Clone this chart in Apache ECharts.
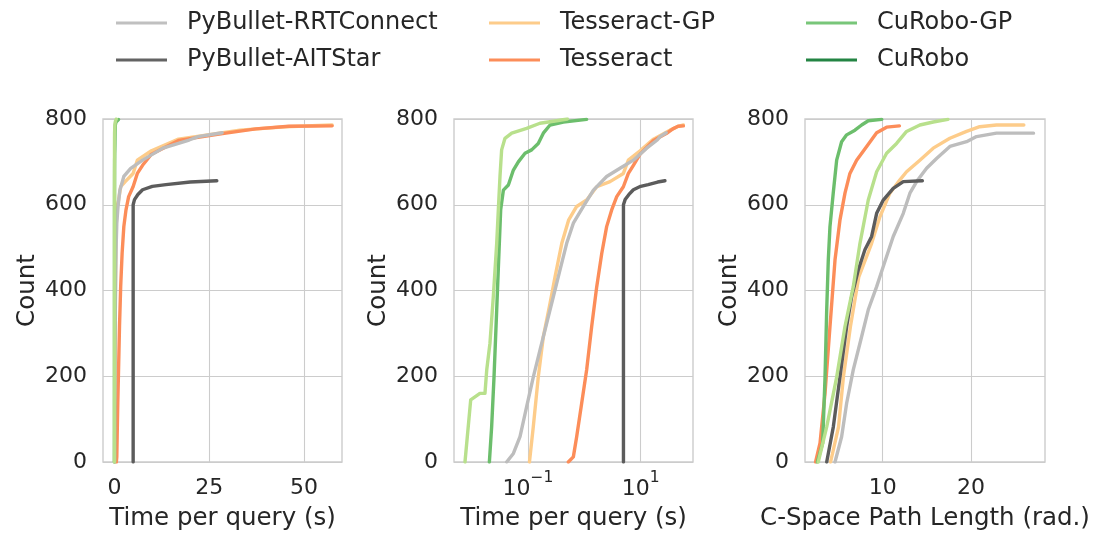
<!DOCTYPE html>
<html><head><meta charset="utf-8">
<script src="https://cdn.jsdelivr.net/npm/echarts@6/dist/echarts.min.js"></script>
<style>html,body{margin:0;padding:0;background:#fff}#c{width:1094px;height:533px}</style>
</head><body><div id="c"></div>
<script>
// ---------- data ----------
const seriesNames = ['PyBullet-RRTConnect','PyBullet-AITStar','Tesseract-GP','Tesseract','CuRobo-GP','CuRobo'];
const countTicks = [0, 200, 400, 600, 800];
const timeLinearTicks = [0, 25, 50];
const timeLogTicks = [0.1, 10];
const pathTicks = [10, 20];
const xNames = ['Time per query (s)', 'Time per query (s)', 'C-Space Path Length (rad.)'];

// Time per query (s) -> cumulative count
const timeRRT_s   = [0.0418,0.055,0.0721,0.0946,0.124,0.163,0.215,0.282,0.37,0.486,0.638,0.962,1.45,2.49,4.3,7.43,12.8,19.7,22.1,28.4];
const timeRRT_n   = [0,20,59,129,198,261,324,386,448,510,557,596,634,666,685,704,732,751,759,768];
const timeAIT_s   = [4.95,4.95,5.3,6.2,7.43,10,13.6,20,27];
const timeAIT_n   = [0,600,612,624,635,643,647,653,656];
const timeTGP_s   = [0.106,0.124,0.152,0.187,0.246,0.302,0.398,0.525,0.731,1.1,1.66,2.86,4.93,6.05,9.77,16.9,33.1,45,57.4];
const timeTGP_n   = [0,82,198,292,370,432,510,564,596,611,642,654,673,704,726,753,774,782,786];
const timeTES_s   = [0.52,0.638,0.731,0.897,1.1,1.35,1.66,2.04,2.49,3.06,3.76,4.93,6.05,7.43,9.77,16.9,28.5,37.3,46,57.4];
const timeTES_n   = [0,12,59,137,215,316,409,487,549,588,619,642,673,692,718,750,766,777,783,784];
const timeCGP_s   = [0.0076,0.0096,0.014,0.0172,0.0185,0.0211,0.0242,0.0278,0.0297,0.0318,0.034,0.039,0.0513,0.0946,0.163,0.323,0.5];
const timeCGP_n   = [0,145,160,160,215,277,386,510,588,666,728,755,767,778,790,796,800];
const timeCUR_s   = [0.0206,0.0226,0.0249,0.0278,0.0301,0.0327,0.0365,0.0448,0.055,0.0673,0.0885,0.116,0.152,0.187,0.246,0.424,1.1];
const timeCUR_n   = [0,82,198,355,471,588,634,646,681,700,720,728,743,767,786,793,799];

// C-Space path length (rad.) -> cumulative count
const pathRRT_r   = [4.6,5.35,5.92,6.67,7.43,8.37,9.32,10.07,11.2,12.34,13.09,13.85,14.98,16.11,17.62,19.51,20.64,22.9,27.1];
const pathRRT_n   = [0,59,137,215,277,355,409,456,526,580,627,654,685,708,736,747,759,767,767];
const pathAIT_r   = [3.66,4.41,5.16,5.92,6.49,7.24,7.99,8.75,9.32,10.07,11.2,12.34,14.5];
const pathAIT_n   = [0,82,198,316,386,448,495,526,580,611,638,654,656];
const pathTGP_r   = [4.1,5.0,5.55,6.35,7.3,8.75,9.69,10.82,11.96,12.71,14.22,15.73,17.62,19.51,21.0,22.9,26.0];
const pathTGP_n   = [0,82,198,316,432,510,572,627,658,677,704,732,755,771,782,786,786];
const pathTES_r   = [2.4,2.9,3.47,4.03,4.6,5.16,5.73,6.29,7.05,8.19,9.32,10.45,11.9];
const pathTES_n   = [0,44,160,316,471,564,627,673,704,736,768,781,784];
const pathCGP_r   = [2.7,3.66,4.79,5.73,6.67,7.43,8.37,9.32,10.45,11.58,12.71,14.22,15.73,17.4];
const pathCGP_n   = [0,82,198,316,409,510,611,677,720,743,771,786,793,799];
const pathCUR_r   = [2.6,3.2,3.47,3.66,3.84,4.03,4.4,4.79,5.35,5.92,6.86,7.62,8.37,9.9];
const pathCUR_n   = [0,44,198,355,471,549,627,704,747,763,774,786,796,799];

// ---------- styles ----------
const lineColor = {
  'PyBullet-RRTConnect':'#bdbdbd','PyBullet-AITStar':'#5c5c5c','Tesseract-GP':'#fdcc8a',
  'Tesseract':'#fc8d59','CuRobo-GP':'#b8e08c','CuRobo':'#6cbe6c'
};
const legendColor = {
  'PyBullet-RRTConnect':'#c0c0c0','PyBullet-AITStar':'#636363','Tesseract-GP':'#fdcc8a',
  'Tesseract':'#fc8d59','CuRobo-GP':'#78c679','CuRobo':'#238443'
};
const zip = (xs, ys) => xs.map((x, i) => [x, ys[i]]);
const timeData = {
  'PyBullet-RRTConnect': zip(timeRRT_s, timeRRT_n), 'PyBullet-AITStar': zip(timeAIT_s, timeAIT_n),
  'Tesseract-GP': zip(timeTGP_s, timeTGP_n), 'Tesseract': zip(timeTES_s, timeTES_n),
  'CuRobo-GP': zip(timeCGP_s, timeCGP_n), 'CuRobo': zip(timeCUR_s, timeCUR_n)
};
const pathData = {
  'PyBullet-RRTConnect': zip(pathRRT_r, pathRRT_n), 'PyBullet-AITStar': zip(pathAIT_r, pathAIT_n),
  'Tesseract-GP': zip(pathTGP_r, pathTGP_n), 'Tesseract': zip(pathTES_r, pathTES_n),
  'CuRobo-GP': zip(pathCGP_r, pathCGP_n), 'CuRobo': zip(pathCUR_r, pathCUR_n)
};
const drawOrder = ['Tesseract-GP','Tesseract','PyBullet-RRTConnect','PyBullet-AITStar','CuRobo','CuRobo-GP'];

const FONT = 'DejaVu Sans';
const TXT = '#262626';
const GRIDC = '#cccccc';

const grids = [
  {left:103, top:119, width:239, height:343},
  {left:454, top:119, width:239, height:343},
  {left:805, top:119, width:240, height:343}
].map(g => Object.assign({show:true, borderColor:GRIDC, borderWidth:1.4, backgroundColor:'#fff',
  containLabel:false, outerBoundsMode:'none'}, g));

function xAxisBase(i, ticks) {
  return {
    gridIndex:i, name:xNames[i], nameLocation:'middle', nameGap:44,
    nameTextStyle:{fontSize:24.5, color:TXT, fontFamily:FONT},
    axisLine:{show:false},
    axisTick:{show:false, customValues:ticks},
    axisLabel:{customValues:ticks, fontSize:22, color:TXT, fontFamily:FONT, margin:15},
    splitLine:{show:true, lineStyle:{color:GRIDC, width:1.1}}
  };
}
const xAxes = [
  Object.assign(xAxisBase(0, timeLinearTicks), {type:'value', min:-3, max:60}),
  (function(){
    const a = Object.assign(xAxisBase(1, timeLogTicks), {type:'log', logBase:10, min:0.00485, max:85});
    a.axisLabel.margin = 8;
    a.axisLabel.formatter = v => {
      const e = Math.round(Math.log10(v));
      return '{b|10}{s|' + (e < 0 ? '\u2212' : '') + Math.abs(e) + '}';
    };
    a.axisLabel.rich = {
      b:{fontSize:22, color:TXT, fontFamily:FONT, lineHeight:30, verticalAlign:'bottom'},
      s:{fontSize:15.5, color:TXT, fontFamily:FONT, lineHeight:30, verticalAlign:'top'}
    };
    return a;
  })(),
  Object.assign(xAxisBase(2, pathTicks), {type:'value', min:1.2, max:28.4})
];
const yAxes = [0,1,2].map(i => ({
  gridIndex:i, type:'value', min:countTicks[0], max:countTicks[countTicks.length-1], interval:200,
  name:'Count', nameLocation:'middle', nameGap:63,
  nameTextStyle:{fontSize:24.5, color:TXT, fontFamily:FONT},
  axisLine:{show:false}, axisTick:{show:false},
  axisLabel:{fontSize:22, color:TXT, fontFamily:FONT, margin:16},
  splitLine:{show:true, lineStyle:{color:GRIDC, width:1.1}}
}));

const series = [];
[timeData, timeData, pathData].forEach((ds, gi) => {
  drawOrder.forEach(name => {
    series.push({
      name, type:'line', xAxisIndex:gi, yAxisIndex:gi, data:ds[name],
      symbol:'none', showSymbol:false, silent:true, animation:false,
      itemStyle:{color:legendColor[name]},
      lineStyle:{color:lineColor[name], width:3.4, cap:'round', join:'round'},
      emphasis:{disabled:true}
    });
  });
});

function legendCol(names, left) {
  return {
    orient:'vertical', left, top:11, padding:0, itemGap:13, itemWidth:51, itemHeight:3, icon:'rect',
    selectedMode:false,
    itemStyle:{borderWidth:0},
    textStyle:{fontSize:24, lineHeight:23, color:TXT, fontFamily:FONT, padding:[0,0,0,15]},
    data:names.map(n => ({name:n, itemStyle:{color:legendColor[n], borderWidth:0}}))
  };
}

const chart = echarts.init(document.getElementById('c'), null, {renderer:'canvas'});
chart.setOption({
  backgroundColor:'#ffffff',
  animation:false,
  textStyle:{fontFamily:FONT},
  legend:[
    legendCol(seriesNames.slice(0,2), 116),
    legendCol(seriesNames.slice(2,4), 489),
    legendCol(seriesNames.slice(4,6), 806)
  ],
  grid:grids,
  xAxis:xAxes,
  yAxis:yAxes,
  series
});
</script>
</body></html>
